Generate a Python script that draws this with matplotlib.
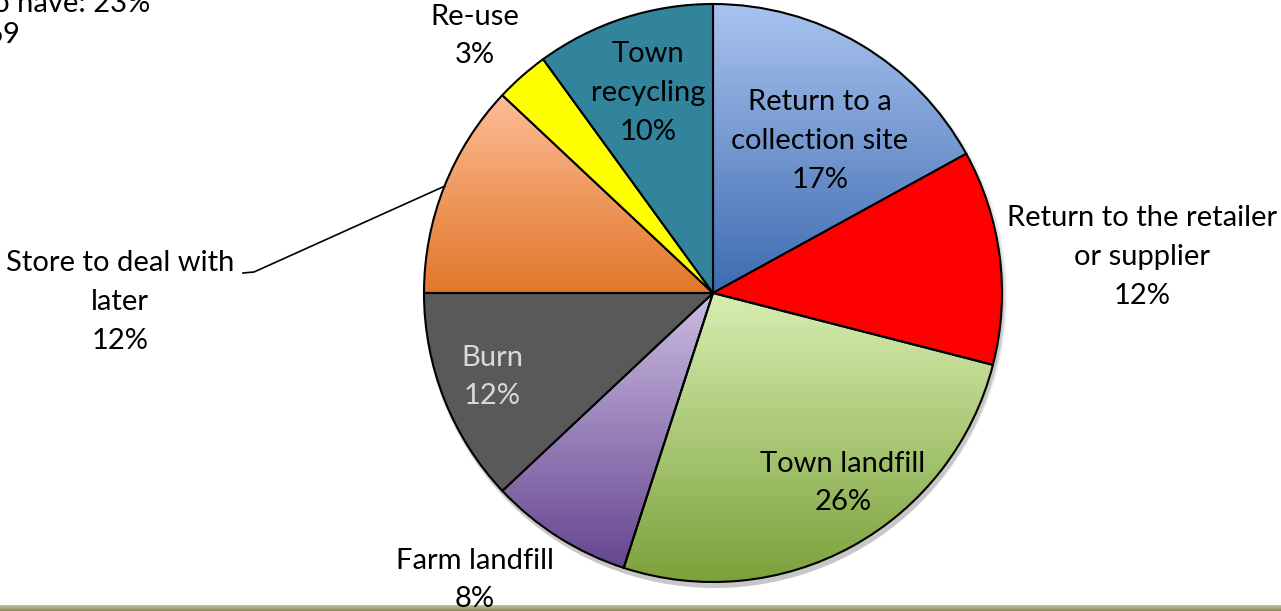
import numpy as np
import matplotlib
matplotlib.use("Agg")
import matplotlib.pyplot as plt
from matplotlib.colors import LinearSegmentedColormap
from matplotlib.patches import Circle

# ---- data ----
categories = ["Return to a\ncollection site", "Return to the retailer\nor supplier",
              "Town landfill", "Farm landfill", "Burn", "Store to deal with\nlater",
              "Re-use", "Town\nrecycling"]
values = [17, 12, 26, 8, 12, 12, 3, 10]
pct_labels = ["17%", "12%", "26%", "8%", "12%", "12%", "3%", "10%"]
header_lines = ["who have: 23%", "n=69"]

# styles (top colour, bottom colour) for vertical gradients
fills = [("#A9C3EF", "#3D6BB0"), ("#FF0000", "#FF0000"), ("#D8EEB2", "#7BA13A"),
         ("#CBBCE2", "#664690"), ("#595959", "#595959"), ("#FCBC95", "#E2772A"),
         ("#FFFF00", "#FFFF00"), ("#31849B", "#31849B")]

W, H = 1281, 611
fig = plt.figure(figsize=(W / 100, H / 100), dpi=100)
ax = fig.add_axes([0, 0, 1, 1])

def Y(y):
    return H - y

cx, cy, R = 713, Y(293), 289

# shadow
for i, a in enumerate([0.05, 0.05, 0.06, 0.07]):
    ax.add_patch(Circle((cx + 2, cy - 3 - i), R + 3 - i, color="black", alpha=a, lw=0, zorder=1))

wedges, _ = ax.pie(values, center=(cx, cy), radius=R, startangle=90, counterclock=False,
                   wedgeprops=dict(edgecolor="black", linewidth=1.5), frame=True)

for w, (c1, c2) in zip(wedges, fills):
    w.set_zorder(2)
    if c1 == c2:
        w.set_facecolor(c1)
        continue
    w.set_facecolor("none")
    path = w.get_path()
    verts = w.get_patch_transform().transform(path.vertices)
    x0, x1 = verts[:, 0].min(), verts[:, 0].max()
    y0, y1 = verts[:, 1].min(), verts[:, 1].max()
    cmap = LinearSegmentedColormap.from_list("g", [c2, c1])
    grad = np.linspace(0, 1, 256).reshape(-1, 1)
    im = ax.imshow(grad, cmap=cmap, extent=(x0, x1, y0, y1), origin="lower",
                   aspect="auto", zorder=1.9, interpolation="bilinear")
    im.set_clip_path(w)

font = "Lato"
fs = 21
ls = 1.6
lab = dict(fontsize=fs, family=font, ha="center", va="center", linespacing=ls, zorder=5)

ax.text(820, Y(141), categories[0] + "\n" + pct_labels[0], color="black", **lab)
ax.text(1142, Y(257), categories[1] + "\n" + pct_labels[1], color="black", **lab)
ax.text(843, Y(483), categories[2] + "\n" + pct_labels[2], color="black", **lab)
ax.text(475, Y(580), categories[3] + "\n" + pct_labels[3], color="black", **lab)
ax.text(492, Y(377), categories[4] + "\n" + pct_labels[4], color="#D9D9D9", **lab)
ax.text(120, Y(302), categories[5] + "\n" + pct_labels[5], color="black", **lab)
ax.text(475, Y(36), categories[6] + "\n" + pct_labels[6], color="black", **lab)
ax.text(648, Y(93), categories[7] + "\n" + pct_labels[7], color="black", **lab)

# leader line for "Store to deal with later"
ax.plot([243, 254, 445], [Y(273), Y(272), Y(186)], color="black", lw=1.2, zorder=4)

# cropped header text at the top-left (cut off as in the original)
ax.text(150, Y(4), header_lines[0], fontsize=fs, family=font, ha="right", va="center", zorder=5)
ax.text(20, Y(35), header_lines[1], fontsize=fs, family=font, ha="right", va="center", zorder=5)

# bottom decorative bar
bar = np.linspace(0, 1, 32).reshape(-1, 1)
bcmap = LinearSegmentedColormap.from_list("b", ["#8C8A5C", "#C9C59A"])
ax.imshow(bar, cmap=bcmap, extent=(0, W, 0, 6), origin="lower", aspect="auto", zorder=3)

ax.set_xlim(0, W)
ax.set_ylim(0, H)
ax.set_aspect("equal")
ax.axis("off")

fig.savefig("out.png", dpi=100)
